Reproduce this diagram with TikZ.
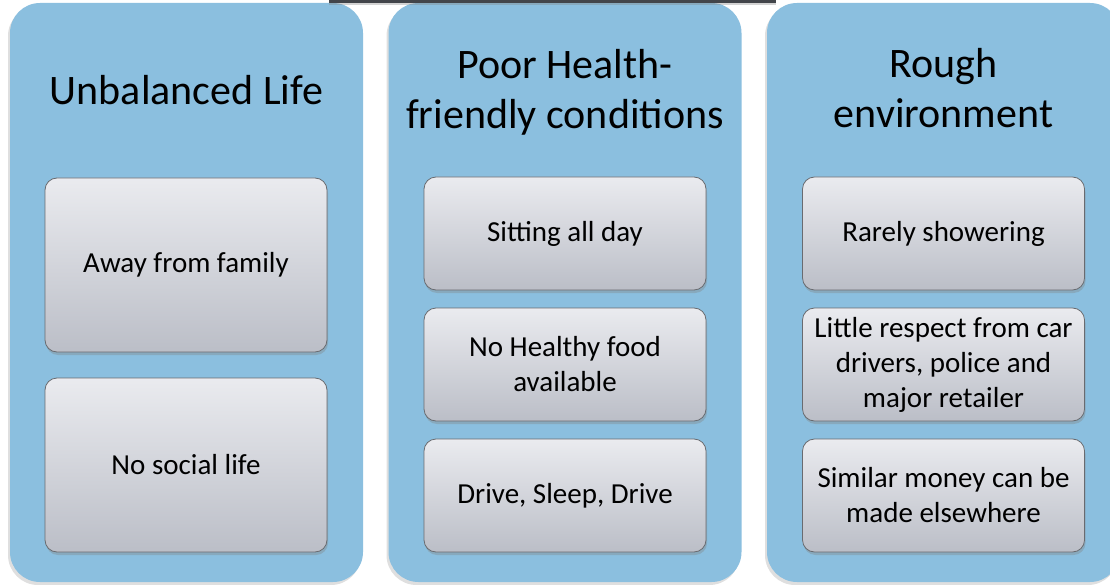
\documentclass[tikz,border=0pt]{standalone}
\usepackage{fontspec}
\setmainfont{Carlito}
\usetikzlibrary{shadows}

\definecolor{panelblue}{RGB}{139,191,223}
\definecolor{boxtop}{RGB}{234,235,239}
\definecolor{boxbot}{RGB}{187,190,199}
\definecolor{boxline}{RGB}{105,107,112}
\definecolor{barfill}{RGB}{66,69,74}

\begin{document}
\begin{tikzpicture}[x=1pt, y=-1pt,
  panel/.style={rounded corners=30pt, fill=panelblue, minimum width=353pt, minimum height=579pt,
    drop shadow={shadow xshift=-2pt, shadow yshift=-3pt, opacity=0.25}},
  paneltitle/.style={align=center, font=\fontsize{42}{50}\selectfont},
  item/.style={draw=boxline, line width=0.8pt, rounded corners=12pt, top color=boxtop, bottom color=boxbot,
    minimum width=282pt, align=center, font=\fontsize{29}{35}\selectfont,
    drop shadow={shadow xshift=1pt, shadow yshift=-3pt, opacity=0.35}},
  tallitem/.style={item, minimum height=174pt},
  shortitem/.style={item, minimum height=113pt}]

\clip (0,0) rectangle (1110,585);

% PANELS %%%%%%%%%%%%%%%%%%%%%%%%%%%%%%%%%%%%%%%%%%%%%%%%%%%%%%%%%%%%%%%%%%

\node[panel] (life) at (186.5,292.5) {};
\node[panel] (health) at (565.0,292.5) {};
\node[panel] (rough) at (943.5,292.5) {};

% top bar
\fill[barfill, drop shadow={shadow xshift=0pt, shadow yshift=-2pt, opacity=0.35}] (329,-20) rectangle (776,3);

% TITLES %%%%%%%%%%%%%%%%%%%%%%%%%%%%%%%%%%%%%%%%%%%%%%%%%%%%%%%%%%%%%%%%%%

\node[paneltitle] (lifeT) at (186.5,90) {Unbalanced Life};
\node[paneltitle] (healthT) at (565.0,92) {Poor Health-\\friendly conditions};
\node[paneltitle] (roughT) at (943.5,88) {Rough\\environment};

% ITEMS %%%%%%%%%%%%%%%%%%%%%%%%%%%%%%%%%%%%%%%%%%%%%%%%%%%%%%%%%%%%%%%%%%%

\node[tallitem] (L1) at (186.0,265.0) {Away from family};
\node[tallitem] (L2) at (186.0,465.0) {No social life};

\node[shortitem] (H1) at (565.0,233.5) {Sitting all day};
\node[shortitem] (H2) at (565.0,364.5) {No Healthy food\\available};
\node[shortitem] (H3) at (565.0,495.5) {Drive, Sleep, Drive};

\node[shortitem] (R1) at (943.5,233.5) {Rarely showering};
\node[shortitem] (R2) at (943.5,364.5) {Little respect from car\\drivers, police and\\major retailer};
\node[shortitem] (R3) at (943.5,495.5) {Similar money can be\\made elsewhere};

\end{tikzpicture}
\end{document}
